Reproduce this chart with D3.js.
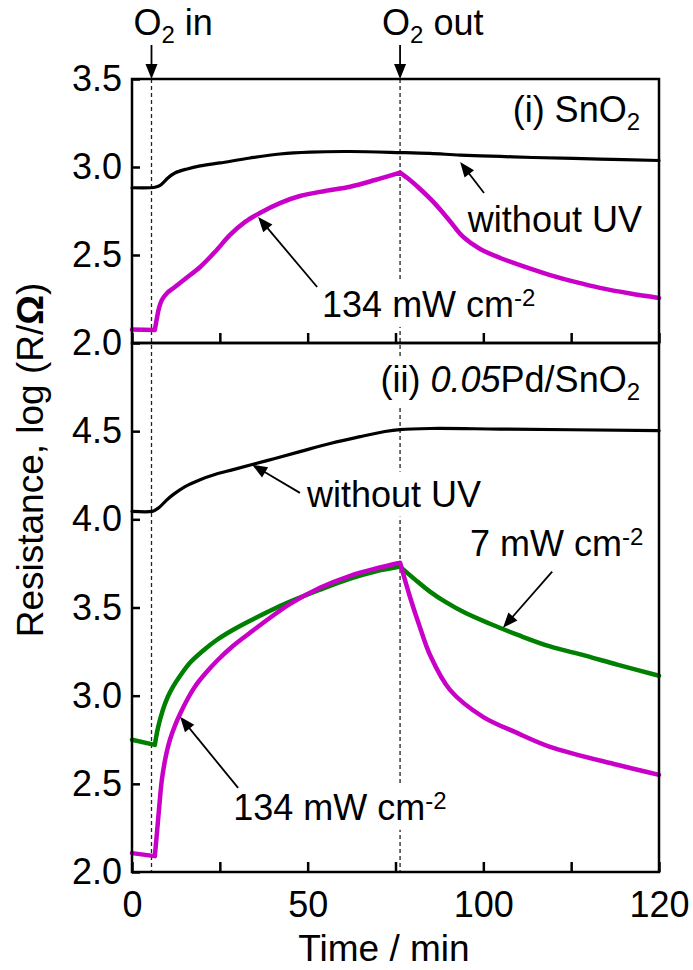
<!DOCTYPE html>
<html>
<head>
<meta charset="utf-8">
<script src="https://cdn.jsdelivr.net/npm/d3@7"></script>
<style>
  html, body { margin: 0; padding: 0; background: #fff; }
  svg { display: block; font-family: "Liberation Sans", Arial, Helvetica, sans-serif; }
</style>
</head>
<body>
<svg id="chart" width="693" height="970"></svg>
<script>
// ---- time axis ----
const timeTicks = [0, 25, 50, 75, 100, 125, 150];
const timeTickLabels = ["0", "", "50", "", "100", "", "120"];
const eventTimes = [5.55, 76.3];            // O2 switched in / out
const eventNames = [" in", " out"];

// ---- resistance axes, log(R/Ω) ----
const topTicks = [2.0, 2.5, 3.0, 3.5];
const bottomTicks = [2.0, 2.5, 3.0, 3.5, 4.0, 4.5];

// ---- (i) SnO2 ----  [time / min, log(R/Ω)]
const sno2Dark = [
  [0, 2.882], [5.1, 2.882], [6.8, 2.886], [8.0, 2.895], [9.1, 2.915],
  [10.2, 2.938], [12.2, 2.966], [15.7, 2.989], [19.4, 3.006], [25.0, 3.023],
  [33.6, 3.051], [42.1, 3.074], [50.7, 3.085], [62.1, 3.088], [76.3, 3.082],
  [84.8, 3.077], [93.4, 3.068], [104.8, 3.060], [114.1, 3.054], [133.2, 3.045],
  [150, 3.037]
];
const sno2Uv134 = [
  [0, 2.076], [6.5, 2.074], [7.1, 2.142], [7.7, 2.199], [8.5, 2.244],
  [10.0, 2.284], [12.2, 2.318], [15.1, 2.364], [19.4, 2.432], [23.6, 2.517],
  [27.9, 2.614], [32.2, 2.688], [36.4, 2.739], [42.1, 2.795], [47.8, 2.835],
  [54.9, 2.864], [62.1, 2.888], [69.2, 2.926], [76.3, 2.968],
  [79.1, 2.926], [82.0, 2.875], [85.7, 2.803], [90.0, 2.705], [94.2, 2.604],
  [99.1, 2.534], [104.8, 2.483], [111.9, 2.432], [119.0, 2.386], [126.1, 2.347],
  [133.2, 2.313], [141.8, 2.281], [150, 2.256]
];

// ---- (ii) 0.05Pd/SnO2 ----
const pdDark = [
  [0, 4.045], [5.7, 4.045], [6.8, 4.055], [8.0, 4.072], [9.7, 4.106],
  [11.7, 4.140], [15.1, 4.186], [19.4, 4.225], [23.6, 4.254], [28.8, 4.282],
  [38.4, 4.333], [47.8, 4.384], [56.4, 4.430], [64.9, 4.469], [72.0, 4.498],
  [76.3, 4.509], [84.8, 4.515], [104.8, 4.512], [150, 4.503]
];
const pdUv7 = [
  [0, 2.75], [6.5, 2.721], [7.4, 2.818], [8.8, 2.920], [10.2, 2.994],
  [11.7, 3.051], [13.7, 3.113], [16.5, 3.187], [20.2, 3.255], [24.2, 3.317],
  [28.8, 3.374], [33.6, 3.425], [39.3, 3.482], [45.0, 3.533], [53.5, 3.601],
  [62.1, 3.664], [69.2, 3.704], [76.3, 3.732],
  [80.6, 3.658], [84.8, 3.590], [89.1, 3.533], [94.8, 3.470], [101.9, 3.408],
  [110.4, 3.340], [119.0, 3.279], [129.0, 3.227], [138.1, 3.176], [150, 3.113]
];
const pdUv134 = [
  [0, 2.107], [6.5, 2.090], [7.1, 2.222], [7.8, 2.381], [8.5, 2.523],
  [9.7, 2.664], [10.8, 2.750], [12.2, 2.829], [13.7, 2.897], [15.7, 2.977],
  [17.9, 3.051], [20.8, 3.124], [24.2, 3.198], [28.8, 3.283], [33.6, 3.357],
  [39.3, 3.442], [45.0, 3.521], [53.5, 3.612], [62.1, 3.680], [69.2, 3.720],
  [76.3, 3.754],
  [79.1, 3.561], [82.0, 3.385], [84.8, 3.232], [90.5, 3.033], [99.9, 2.880],
  [109.6, 2.789], [119.0, 2.710], [138.1, 2.608], [150, 2.551]
];
const switchKinks = [6.5, 76.3];

// ---- layout ----
const L = 132, R = 659, T = 79, M = 343, B = 872;
const FS = 36, SMALL = 24;
const MAGENTA = "#c800c8", GREEN = "#008000";

const svg = d3.select("#chart");
svg.append("rect").attr("width", 693).attr("height", 970).attr("fill", "#fff");

const x = d3.scaleLinear().domain([0, 150]).range([L, R]);
const yTop = d3.scaleLinear().domain([2.0, 3.5]).range([M, T]);
const yBot = d3.scaleLinear().domain([2.0, 5.0]).range([B, M]);

const gDash = svg.append("g");
const gBg = svg.append("g");
const gCurves = svg.append("g");
const gAxes = svg.append("g");
const gNotes = svg.append("g");

// dashed markers at the gas switching times
gDash.selectAll("line").data(eventTimes).join("line")
  .attr("x1", d => x(d)).attr("x2", d => x(d))
  .attr("y1", T).attr("y2", B)
  .attr("stroke", "#222").attr("stroke-width", 1.3)
  .attr("stroke-dasharray", "4,3");

// text with sub/superscript and italic runs
function rich(textSel, parts) {
  let shift = 0;
  parts.forEach(([s, kind]) => {
    const ts = textSel.append("tspan").text(s);
    let target = 0;
    if (kind === "sub") { ts.attr("font-size", SMALL); target = 8; }
    else if (kind === "sup") { ts.attr("font-size", SMALL); target = -11; }
    else if (kind === "it") { ts.attr("font-style", "italic"); }
    else if (kind === "b") { ts.attr("font-weight", "bold"); }
    if (target !== shift) { ts.attr("dy", target - shift); shift = target; }
  });
  return textSel;
}

function arrow(g, x1, y1, x2, y2, len = 15, half = 6) {
  const dx = x2 - x1, dy = y2 - y1, d = Math.hypot(dx, dy);
  const ux = dx / d, uy = dy / d;
  const bx = x2 - ux * len, by = y2 - uy * len;
  g.append("line")
    .attr("x1", x1).attr("y1", y1)
    .attr("x2", x2 - ux * (len - 3)).attr("y2", y2 - uy * (len - 3))
    .attr("stroke", "#000").attr("stroke-width", 1.8);
  g.append("path")
    .attr("d", `M${x2},${y2}L${bx - uy * half},${by + ux * half}L${bx + uy * half},${by - ux * half}Z`)
    .attr("fill", "#000");
}

// curves, split at the sharp corners where the gas is switched
function drawSeries(yScale, data, color, width, kinks) {
  const segs = [];
  let cur = [];
  data.forEach(p => {
    cur.push(p);
    if (kinks.includes(p[0])) { segs.push(cur); cur = [p]; }
  });
  if (cur.length > 1) segs.push(cur);
  const line = d3.line().x(d => x(d[0])).y(d => yScale(d[1]))
    .curve(d3.curveCatmullRom.alpha(0.5));
  gCurves.append("path")
    .attr("d", segs.map(s => line(s)).join(""))
    .attr("fill", "none").attr("stroke", color).attr("stroke-width", width)
    .attr("stroke-linejoin", "round").attr("stroke-linecap", "round");
}

drawSeries(yTop, sno2Dark, "#000", 3.2, []);
drawSeries(yTop, sno2Uv134, MAGENTA, 4.5, switchKinks);
drawSeries(yBot, pdDark, "#000", 3.2, []);
drawSeries(yBot, pdUv7, GREEN, 4.5, switchKinks);
drawSeries(yBot, pdUv134, MAGENTA, 4.5, switchKinks);

// frames
[[T, M], [M, B]].forEach(([a, b]) => {
  gAxes.append("rect").attr("x", L).attr("y", a).attr("width", R - L).attr("height", b - a)
    .attr("fill", "none").attr("stroke", "#000").attr("stroke-width", 2.5);
});

function styleAxis(g) {
  g.select(".domain").remove();
  g.selectAll(".tick line").attr("stroke", "#000").attr("stroke-width", 2.5);
  g.selectAll(".tick text").attr("font-size", FS).attr("fill", "#000")
    .attr("font-family", "Liberation Sans, Arial, sans-serif");
}

const fmt = d3.format(".1f");
gAxes.append("g").attr("transform", `translate(${L},0)`)
  .call(d3.axisLeft(yTop).tickValues(topTicks).tickSizeInner(-8).tickSizeOuter(0)
    .tickPadding(10).tickFormat(fmt))
  .call(styleAxis);
gAxes.append("g").attr("transform", `translate(${L},0)`)
  .call(d3.axisLeft(yBot).tickValues(bottomTicks).tickSizeInner(-8).tickSizeOuter(0)
    .tickPadding(10).tickFormat(fmt))
  .call(styleAxis);
gAxes.append("g").attr("transform", `translate(0,${M})`)
  .call(d3.axisBottom(x).tickValues(timeTicks).tickSizeInner(-10).tickSizeOuter(0)
    .tickFormat(() => ""))
  .call(styleAxis);
gAxes.append("g").attr("transform", `translate(0,${B})`)
  .call(d3.axisBottom(x).tickValues(timeTicks).tickSizeInner(-10).tickSizeOuter(0)
    .tickPadding(19).tickFormat((d, i) => timeTickLabels[i]))
  .call(styleAxis);

// axis titles
gAxes.append("text").attr("x", 384).attr("y", 961).attr("text-anchor", "middle")
  .attr("font-size", FS + 1).text("Time / min");
rich(gAxes.append("text").attr("transform", "translate(43,460) rotate(-90)")
  .attr("text-anchor", "middle").attr("font-size", FS + 1),
  [["Resistance, log (R/"], ["Ω", "b"], [")"]]);

// O2 in / out markers above the frame
eventTimes.forEach((t, i) => {
  arrow(gNotes, x(t), T - 34, x(t), T, 15, 6);
  rich(gNotes.append("text").attr("x", x(t) - 18).attr("y", 35).attr("font-size", FS),
    [["O"], ["2", "sub"], [eventNames[i]]]);
});

// panel annotations, positioned in data units
const topNotes = [
  { parts: [["(i) SnO"], ["2", "sub"]], at: [144.6, 3.256], anchor: "end" },
  { parts: [["without UV"]], at: [95.6, 2.63], from: [100.2, 2.852], to: [93.4, 3.028] },
  { parts: [["134 mW cm"], ["-2", "sup"]], at: [54.1, 2.148], from: [52.7, 2.318], to: [35.9, 2.716], bg: true }
];
const bottomNotes = [
  { parts: [["(ii) "], ["0.05", "it"], ["Pd/SnO"], ["2", "sub"]], at: [144.6, 4.72], anchor: "end", bg: true },
  { parts: [["without UV"]], at: [49.8, 4.072], from: [47.8, 4.15], to: [34.2, 4.31], bg: true },
  { parts: [["7 mW cm"], ["-2", "sup"]], at: [96.2, 3.79], from: [119.6, 3.703], to: [105.6, 3.385] },
  { parts: [["134 mW cm"], ["-2", "sup"]], at: [28.8, 2.296], from: [30.2, 2.477], to: [13.7, 2.88], bg: true }
];

function drawNotes(notes, yScale) {
  notes.forEach(n => {
    const t = gNotes.append("text")
      .attr("x", x(n.at[0])).attr("y", yScale(n.at[1]))
      .attr("text-anchor", n.anchor || "start").attr("font-size", FS);
    rich(t, n.parts);
    if (n.bg) {
      const bb = t.node().getBBox();
      gBg.append("rect").attr("x", bb.x - 2).attr("y", bb.y - 2)
        .attr("width", bb.width + 4).attr("height", bb.height + 4).attr("fill", "#fff");
    }
    if (n.from) {
      arrow(gNotes, x(n.from[0]), yScale(n.from[1]), x(n.to[0]), yScale(n.to[1]));
    }
  });
}
drawNotes(topNotes, yTop);
drawNotes(bottomNotes, yBot);
</script>
</body>
</html>
